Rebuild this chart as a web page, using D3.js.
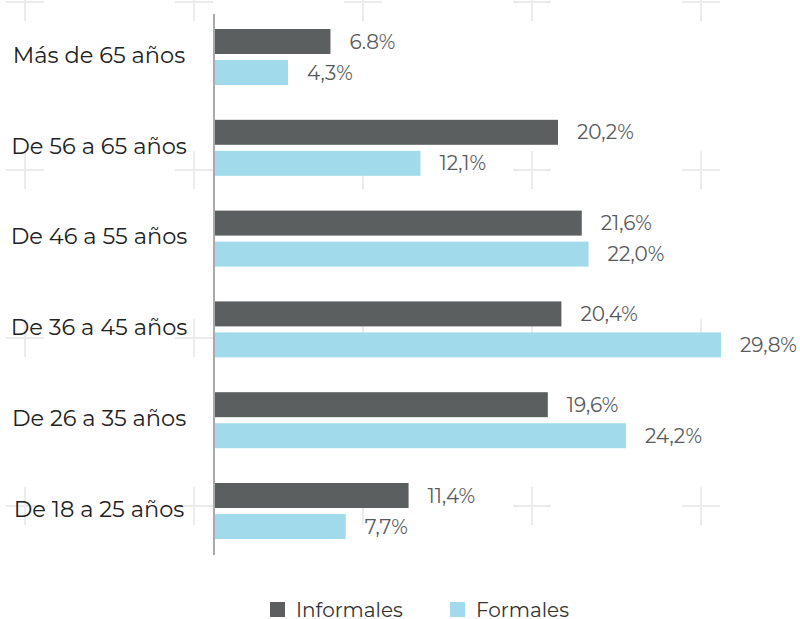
<!DOCTYPE html>
<html>
<head>
<meta charset="utf-8">
<script src="https://cdn.jsdelivr.net/npm/d3@7"></script>
<style>
  html, body { margin: 0; padding: 0; background: #fff; }
  svg { display: block; }
</style>
</head>
<body>
<div id="chart"></div>
<script>
const categories = ['Más de 65 años', 'De 56 a 65 años', 'De 46 a 55 años', 'De 36 a 45 años', 'De 26 a 35 años', 'De 18 a 25 años'];
const informales = [6.8, 20.2, 21.6, 20.4, 19.6, 11.4];
const formales = [4.3, 12.1, 22.0, 29.8, 24.2, 7.7];
const informalesLabels = ['6.8%', '20,2%', '21,6%', '20,4%', '19,6%', '11,4%'];
const formalesLabels = ['4,3%', '12,1%', '22,0%', '29,8%', '24,2%', '7,7%'];
const seriesNames = ['Informales', 'Formales'];

const W = 800, H = 619;
const FONT = "Montserrat, 'Noto Sans', 'DejaVu Sans', sans-serif";
const colors = { Informales: '#5b5f60', Formales: '#a1dbeb' };

const svg = d3.select('#chart').append('svg')
  .attr('width', W).attr('height', H);

// faint "+" watermark in the background
const bg = svg.append('g').attr('stroke', '#ebebeb').attr('stroke-width', 2);
d3.range(5).forEach((i) => {
  d3.range(4).forEach((j) => {
    const cx = 25 + i * 169, cy = 2 + j * 168;
    bg.append('line').attr('x1', cx - 19).attr('x2', cx + 19).attr('y1', cy).attr('y2', cy);
    bg.append('line').attr('x1', cx).attr('x2', cx).attr('y1', cy - 19).attr('y2', cy + 19);
  });
});

const x = d3.scaleLinear().domain([0, 29.8]).range([215, 721]);
const y = d3.scalePoint().domain(categories).range([57, 57 + 5 * 90.8]);
const ySub = d3.scaleBand().domain(seriesNames).range([-28, 28]).paddingInner(0.194);

const rows = categories.map((c, i) => ({
  cat: c,
  vals: [
    { key: 'Informales', v: informales[i], label: informalesLabels[i] },
    { key: 'Formales', v: formales[i], label: formalesLabels[i] }
  ]
}));

const groups = svg.append('g').selectAll('g')
  .data(rows).join('g')
  .attr('transform', (d) => `translate(0,${y(d.cat)})`);

groups.selectAll('rect')
  .data((d) => d.vals).join('rect')
  .attr('x', x(0))
  .attr('y', (d) => ySub(d.key))
  .attr('width', (d) => x(d.v) - x(0))
  .attr('height', ySub.bandwidth())
  .attr('fill', (d) => colors[d.key]);

groups.selectAll('text.val')
  .data((d) => d.vals).join('text')
  .attr('class', 'val')
  .attr('x', (d) => x(d.v) + 19)
  .attr('y', (d) => ySub(d.key) + ySub.bandwidth() / 2)
  .attr('dy', '0.35em')
  .attr('font-family', FONT).attr('font-size', 20)
  .attr('fill', '#58595b')
  .text((d) => d.label);

// category labels
svg.append('g').selectAll('text')
  .data(categories).join('text')
  .attr('x', 99)
  .attr('y', (d) => y(d) - 2)
  .attr('dy', '0.35em')
  .attr('text-anchor', 'middle')
  .attr('font-family', FONT).attr('font-size', 22.5)
  .attr('fill', '#222')
  .text((d) => d);

// vertical axis line
svg.append('line')
  .attr('x1', 214).attr('x2', 214)
  .attr('y1', 14).attr('y2', 555)
  .attr('stroke', '#aaa').attr('stroke-width', 2);

// legend
const legendX = [270, 450];
const legend = svg.append('g').selectAll('g')
  .data(seriesNames).join('g')
  .attr('transform', (d, i) => `translate(${legendX[i]},602)`);
legend.append('rect')
  .attr('width', 15).attr('height', 15)
  .attr('fill', (d) => colors[d]);
legend.append('text')
  .attr('x', 26).attr('y', 8).attr('dy', '0.35em')
  .attr('font-family', FONT).attr('font-size', 20)
  .attr('fill', '#333')
  .text((d) => d);
</script>
</body>
</html>
